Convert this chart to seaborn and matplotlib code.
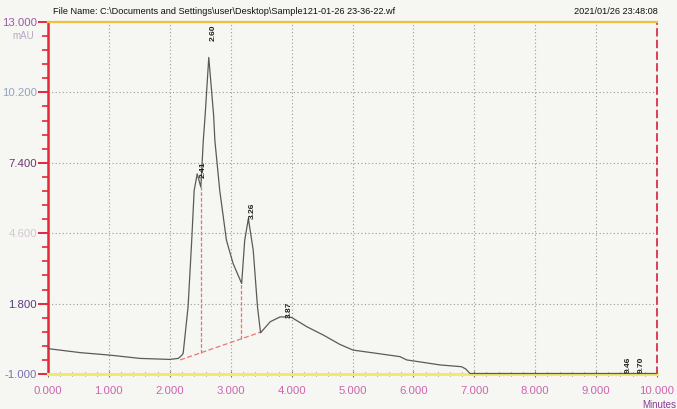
import numpy as np
import pandas as pd
import matplotlib
matplotlib.use("Agg")
import matplotlib.pyplot as plt
from matplotlib.ticker import FixedLocator, MultipleLocator
import seaborn as sns

# ---------------- data ----------------
time_min = [0.00, 0.03, 0.53, 1.02, 1.51, 2.00, 2.14, 2.20, 2.22, 2.30, 2.36, 2.40,
            2.45, 2.51, 2.55, 2.58, 2.64, 2.72, 2.74, 2.82, 2.93, 3.04, 3.18, 3.23,
            3.29, 3.37, 3.44, 3.49, 3.65, 3.81, 3.86, 4.00, 4.25, 4.52, 4.79, 5.01,
            5.40, 5.78, 5.89, 6.44, 6.79, 6.86, 6.93, 7.10, 8.00, 9.00, 10.00]
signal_mau = [0.04, 0.00, -0.15, -0.25, -0.38, -0.42, -0.38, -0.25, -0.17, 1.67, 4.32, 6.30,
              6.96, 6.43, 8.29, 9.28, 11.59, 9.28, 8.29, 6.30, 4.32, 3.39, 2.60, 4.32,
              5.18, 3.92, 1.67, 0.64, 1.08, 1.27, 1.27, 1.25, 0.88, 0.55, 0.18, -0.05,
              -0.18, -0.31, -0.44, -0.64, -0.71, -0.80, -0.98, -0.98, -0.98, -0.98, -0.98]

baseline_t = [2.17, 3.51]
baseline_v = [-0.44, 0.68]
dropline_t = [2.51, 3.17]
dropline_top = [6.43, 2.60]

peak_labels = ["2.41", "2.60", "3.26", "3.87", "9.46", "9.70"]
peak_label_t = [2.55, 2.71, 3.35, 3.96, 9.52, 9.74]
peak_label_v = [6.78, 12.25, 5.15, 1.22, -0.96, -0.96]

x_ticks = [0, 1, 2, 3, 4, 5, 6, 7, 8, 9, 10]
x_tick_labels = ["0.000", "1.000", "2.000", "3.000", "4.000", "5.000",
                 "6.000", "7.000", "8.000", "9.000", "10.000"]
y_ticks = [-1.0, 1.8, 4.6, 7.4, 10.2, 13.0]
y_tick_labels = ["-1.000", "1.800", "4.600", "7.400", "10.200", "13.000"]
y_label_colors = ["#7a70b0", "#5a3a80", "#d6c6d6", "#6a3a70", "#93a3c3", "#9a5aa8"]

title_left = r"File Name: C:\Documents and Settings\user\Desktop\Sample121-01-26 23-36-22.wf"
title_right = "2021/01/26 23:48:08"

# ---------------- style ----------------
sns.set_style("white")
plt.rcParams["font.family"] = ["Liberation Sans", "DejaVu Sans"]
bg = "#f6f6f2"

fig = plt.figure(figsize=(6.77, 4.09), dpi=100, facecolor=bg)
ax = fig.add_axes([48 / 677, 35 / 409, 609 / 677, 352 / 409], facecolor=bg)

df = pd.DataFrame({"t": time_min, "v": signal_mau})

# grid
for xv in x_ticks[1:-1]:
    ax.axvline(xv, color="#9a9a9a", lw=0.8, ls=(0, (1, 2.2)), zorder=1)
for yv in y_ticks[1:-1]:
    ax.axhline(yv, color="#9a9a9a", lw=0.8, ls=(0, (1, 2.2)), zorder=1)

# integration baselines and drop lines
sns.lineplot(x=baseline_t, y=baseline_v, ax=ax, color="#e87878", lw=0.9,
             zorder=2, linestyle=(0, (4, 2)))
slope = (baseline_v[1] - baseline_v[0]) / (baseline_t[1] - baseline_t[0])
for t, top in zip(dropline_t, dropline_top):
    bottom = baseline_v[0] + slope * (t - baseline_t[0])
    ax.plot([t, t], [bottom, top], color="#ec7070", lw=0.9, ls=(0, (3, 1.5)), zorder=2)

# trace
sns.lineplot(data=df, x="t", y="v", ax=ax, sort=False, color="#5a5a5a", lw=0.9,
             zorder=5, clip_on=False)

# peak labels
for lab, t, v in zip(peak_labels, peak_label_t, peak_label_v):
    ax.text(t, v, lab, rotation=90, ha="center", va="bottom", fontsize=6,
            fontweight="bold", color="#202020", zorder=6)

ax.set_xlim(0, 10)
ax.set_ylim(-1.0, 13.0)
ax.set_xlabel("")
ax.set_ylabel("")

# spines
ax.spines["left"].set_color("#e3283a")
ax.spines["left"].set_linewidth(1.8)
ax.spines["right"].set_color("#d8203a")
ax.spines["right"].set_linewidth(1.2)
ax.spines["right"].set_linestyle((0, (4, 3)))
ax.spines["bottom"].set_color("#f1ea6a")
ax.spines["bottom"].set_linewidth(2.2)
ax.spines["top"].set_color("#f0c040")
ax.spines["top"].set_linewidth(1.6)

# ticks
ax.xaxis.set_major_locator(FixedLocator(x_ticks))
ax.set_xticklabels(x_tick_labels)
ax.xaxis.set_minor_locator(MultipleLocator(0.2))
ax.tick_params(axis="x", which="both", bottom=True, top=False)
ax.tick_params(axis="x", which="major", direction="inout", length=5, width=0.8,
               color="#707070", pad=6, labelsize=8.2, labelcolor="#cc66b0")
ax.tick_params(axis="x", which="minor", direction="inout", length=3, width=0.7,
               color="#7a7a7a")

ax.yaxis.set_major_locator(FixedLocator(y_ticks))
ax.set_yticklabels(y_tick_labels)
ax.yaxis.set_minor_locator(FixedLocator(list(np.arange(-1.0, 13.01, 0.56))))
ax.tick_params(axis="y", which="both", left=True, right=False)
ax.tick_params(axis="y", which="major", direction="out", length=7, width=1.4,
               color="#e3283a", pad=1, labelsize=8.2)
ax.tick_params(axis="y", which="minor", direction="out", length=4, width=1.2,
               color="#e3283a")
for lbl, c in zip(ax.get_yticklabels(), y_label_colors):
    lbl.set_color(c)

# unit labels
fig.text(12 / 677, 1 - 36 / 409, "mAU", fontsize=7, color="#b7a7c7",
         ha="left", va="center")
fig.text(676 / 677, 1 - 404.5 / 409, "Minutes", fontsize=7, color="#8a3a9a",
         ha="right", va="center")

# header
fig.text(53 / 677, 1 - 11 / 409, title_left, fontsize=6.6, color="#101010",
         ha="left", va="center")
fig.text(658 / 677, 1 - 11 / 409, title_right, fontsize=6.6, color="#101010",
         ha="right", va="center")

fig.savefig("out.png", dpi=100, facecolor=bg)
